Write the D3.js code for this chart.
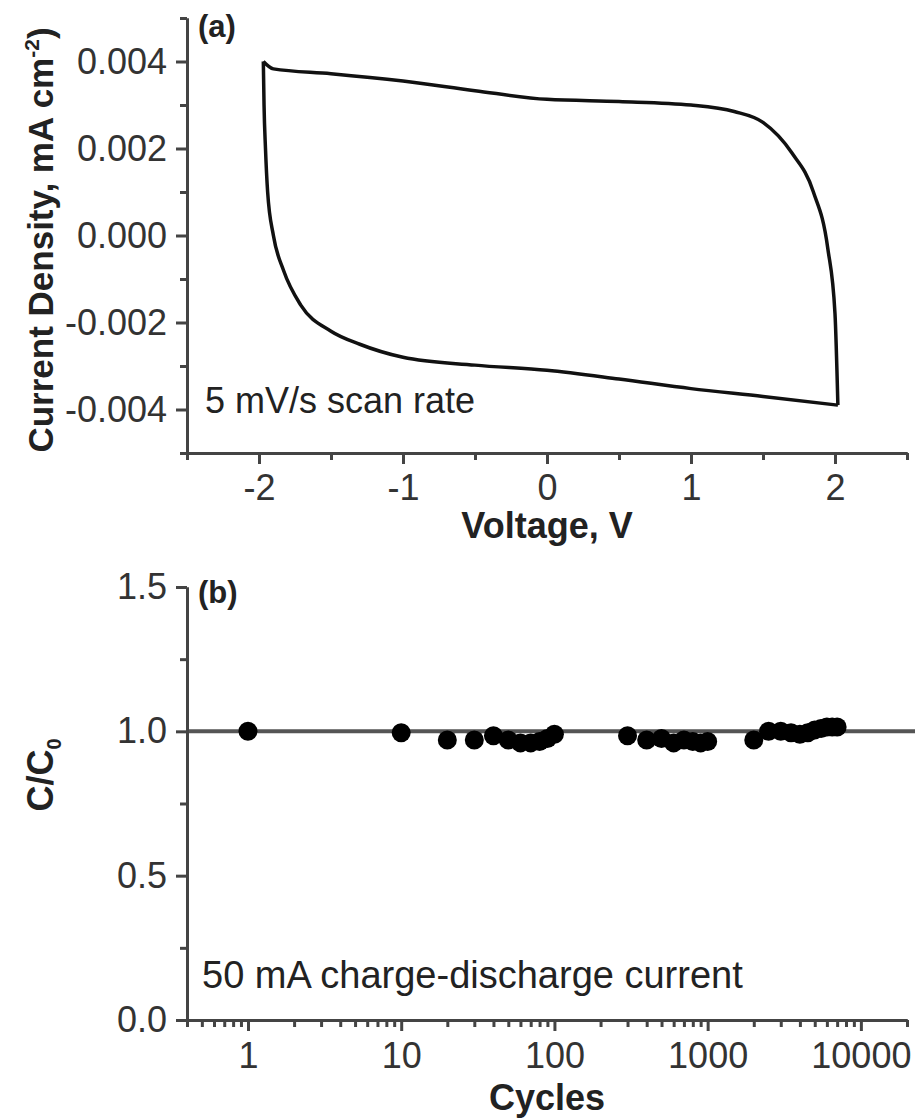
<!DOCTYPE html>
<html>
<head>
<meta charset="utf-8">
<script src="https://cdn.jsdelivr.net/npm/d3@7"></script>
<style>
  body { margin: 0; background: #fff; }
  svg text { font-family: 'Liberation Sans', Arial, sans-serif; }
  .axis path, .axis line { stroke: #444; stroke-width: 3; }
  .axis text { font-size: 36px; fill: #333; }
</style>
</head>
<body>
<div id="chart"></div>
<script>
// (a) cyclic voltammogram, forward scan (upper branch) and return scan (lower branch)
let forwardVoltage = [-1.97, -1.9, -1.5, -1.0, -0.5, 0, 0.5, 1.0, 1.3, 1.5, 1.7, 1.85, 1.95, 2.0, 2.02]
let forwardCurrent = [0.0040, 0.00383, 0.00372, 0.00355, 0.00333, 0.00313, 0.00308, 0.00300, 0.00285, 0.0026, 0.0019, 0.0010, -0.0003, -0.0018, -0.0039]
let reverseVoltage = [-1.97, -1.965, -1.955, -1.94, -1.9, -1.83, -1.71, -1.5, -1.3, -1.0, -0.5, 0, 0.5, 1.0, 1.5, 2.02]
let reverseCurrent = [0.0040, 0.003, 0.002, 0.001, 0.0, -0.0008, -0.0016, -0.0022, -0.0025, -0.0028, -0.00298, -0.0031, -0.0033, -0.00352, -0.0037, -0.0039]

let voltageTicks = [-2, -1, 0, 1, 2]
let voltageMinor = [-2.5, -1.5, -0.5, 0.5, 1.5, 2.5]
let currentTicks = [-0.004, -0.002, 0, 0.002, 0.004]
let currentMinor = [-0.005, -0.003, -0.001, 0.001, 0.003, 0.005]

// (b) capacitance retention
let cycles = [1, 10, 20, 30, 40, 50, 60, 70, 80, 90, 100,
  300, 400, 500, 600, 700, 800, 900, 1000,
  2000, 2500, 3000, 3500, 4000, 4500, 5000, 5500, 6000, 6500, 7000]
let retention = [1.0, 0.995, 0.97, 0.97, 0.985, 0.97, 0.96, 0.96, 0.965, 0.975, 0.99,
  0.985, 0.97, 0.975, 0.96, 0.97, 0.965, 0.96, 0.965,
  0.97, 1.0, 1.0, 0.995, 0.99, 0.995, 1.005, 1.01, 1.015, 1.015, 1.015]

let cycleTicks = [1, 10, 100, 1000, 10000]
let ratioTicks = [0, 0.5, 1.0, 1.5]
let ratioMinor = [0.25, 0.75, 1.25]

let width = 915
let height = 1120

let svg = d3
  .select('#chart')
  .append('svg')
  .attr('width', width)
  .attr('height', height)

// ---------- panel (a) ----------
let xV = d3.scaleLinear().domain([-2.5, 2.5]).range([187, 907])
let yI = d3.scaleLinear().domain([-0.005, 0.005]).range([453, 18])

let cvLine = d3
  .line()
  .x(d => xV(d[0]))
  .y(d => yI(d[1]))
  .curve(d3.curveMonotoneX)

let forward = forwardVoltage.map((v, i) => [v, forwardCurrent[i]])
let reverse = reverseVoltage.map((v, i) => [v, reverseCurrent[i]])

svg
  .selectAll('.cv')
  .data([forward, reverse])
  .enter()
  .append('path')
  .attr('class', 'cv')
  .attr('d', cvLine)
  .attr('fill', 'none')
  .attr('stroke', '#111')
  .attr('stroke-width', 3.5)

svg
  .append('g')
  .attr('class', 'axis')
  .attr('transform', 'translate(0,453)')
  .call(d3.axisBottom(xV).tickValues(voltageMinor).tickSize(7).tickFormat('').tickSizeOuter(0))

svg
  .append('g')
  .attr('class', 'axis')
  .attr('transform', 'translate(0,453)')
  .call(d3.axisBottom(xV).tickValues(voltageTicks).tickSize(11).tickPadding(10).tickSizeOuter(0).tickFormat(d => d))

svg
  .append('g')
  .attr('class', 'axis')
  .attr('transform', 'translate(187,0)')
  .call(d3.axisLeft(yI).tickValues(currentMinor).tickSize(7).tickFormat('').tickSizeOuter(0))

svg
  .append('g')
  .attr('class', 'axis')
  .attr('transform', 'translate(187,0)')
  .call(d3.axisLeft(yI).tickValues(currentTicks).tickSize(11).tickPadding(9).tickSizeOuter(0).tickFormat(d => d.toFixed(3)))

svg
  .append('text')
  .attr('x', 547)
  .attr('y', 538)
  .attr('text-anchor', 'middle')
  .attr('font-size', 36)
  .attr('font-weight', 'bold')
  .attr('fill', '#222')
  .text('Voltage, V')

let yTitleA = svg
  .append('text')
  .attr('transform', 'translate(53,240) rotate(-90)')
  .attr('text-anchor', 'middle')
  .attr('font-size', 35)
  .attr('font-weight', 'bold')
  .attr('fill', '#222')
yTitleA.append('tspan').text('Current Density, mA cm')
yTitleA.append('tspan').attr('dy', -14).attr('font-size', 21).text('-2')
yTitleA.append('tspan').attr('dy', 14).text(')')

svg
  .append('text')
  .attr('x', 198)
  .attr('y', 37)
  .attr('font-size', 31)
  .attr('font-weight', 'bold')
  .attr('fill', '#222')
  .text('(a)')

svg
  .append('text')
  .attr('x', 205)
  .attr('y', 413)
  .attr('font-size', 36)
  .attr('fill', '#222')
  .text('5 mV/s scan rate')

// ---------- panel (b) ----------
let xC = d3.scaleLog().domain([0.4, 20000]).range([187, 907])
let yR = d3.scaleLinear().domain([0, 1.5]).range([1020, 587])

let cycleMinor = []
;[0.1, 1, 10, 100, 1000, 10000].forEach(base => {
  d3.range(2, 10).forEach(k => {
    let v = base * k
    if (v >= 0.4 && v <= 20000) cycleMinor.push(v)
  })
})

svg
  .append('line')
  .attr('x1', 187)
  .attr('x2', 915)
  .attr('y1', yR(1))
  .attr('y2', yR(1))
  .attr('stroke', '#555')
  .attr('stroke-width', 4)

svg
  .append('g')
  .attr('class', 'axis')
  .attr('transform', 'translate(0,1020)')
  .call(d3.axisBottom(xC).tickValues(cycleMinor).tickSize(7).tickFormat('').tickSizeOuter(0))

svg
  .append('g')
  .attr('class', 'axis')
  .attr('transform', 'translate(0,1020)')
  .call(d3.axisBottom(xC).tickValues(cycleTicks).tickSize(11).tickPadding(11).tickSizeOuter(0).tickFormat(d => d))

svg
  .append('g')
  .attr('class', 'axis')
  .attr('transform', 'translate(187,0)')
  .call(d3.axisLeft(yR).tickValues(ratioMinor).tickSize(7).tickFormat('').tickSizeOuter(0))

svg
  .append('g')
  .attr('class', 'axis')
  .attr('transform', 'translate(187,0)')
  .call(d3.axisLeft(yR).tickValues(ratioTicks).tickSize(11).tickPadding(9).tickSizeOuter(0).tickFormat(d => d.toFixed(1)))

svg
  .selectAll('.retention')
  .data(cycles)
  .enter()
  .append('circle')
  .attr('class', 'retention')
  .attr('cx', d => xC(d))
  .attr('cy', (d, i) => yR(retention[i]))
  .attr('r', 9.5)
  .attr('fill', '#000')

svg
  .append('text')
  .attr('x', 547)
  .attr('y', 1110)
  .attr('text-anchor', 'middle')
  .attr('font-size', 36)
  .attr('font-weight', 'bold')
  .attr('fill', '#222')
  .text('Cycles')

let yTitleB = svg
  .append('text')
  .attr('transform', 'translate(53,775) rotate(-90)')
  .attr('text-anchor', 'middle')
  .attr('font-size', 36)
  .attr('font-weight', 'bold')
  .attr('fill', '#222')
yTitleB.append('tspan').text('C/C')
yTitleB.append('tspan').attr('dy', 8).attr('font-size', 20).text('0')

svg
  .append('text')
  .attr('x', 198)
  .attr('y', 603)
  .attr('font-size', 31)
  .attr('font-weight', 'bold')
  .attr('fill', '#222')
  .text('(b)')

svg
  .append('text')
  .attr('x', 202)
  .attr('y', 988)
  .attr('font-size', 38)
  .attr('fill', '#222')
  .text('50 mA charge-discharge current')
</script>
</body>
</html>
